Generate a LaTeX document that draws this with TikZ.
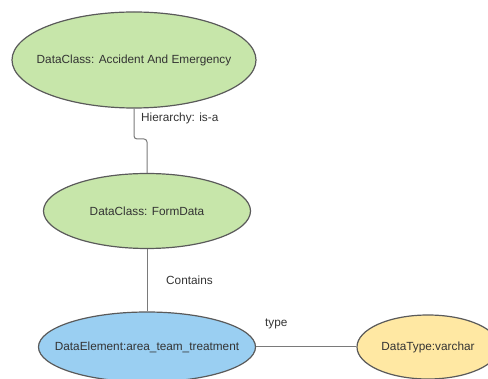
\documentclass[tikz,border=0pt]{standalone}
\usepackage{fontspec}
\setmainfont{Liberation Sans}
\usetikzlibrary{shapes.geometric}
\definecolor{classgreen}{HTML}{C7E6AA}
\definecolor{elemblue}{HTML}{9ACFF2}
\definecolor{typeyellow}{HTML}{FFE8A3}
\definecolor{rim}{HTML}{5A5A5A}
\definecolor{wire}{HTML}{7A7A7A}
\definecolor{ink}{HTML}{333333}
\begin{document}
\begin{tikzpicture}[x=1pt,y=-1pt,
  entity/.style={ellipse, draw=rim, line width=1.2pt, inner sep=0pt},
  caption/.style={font=\fontsize{11.8}{14}\selectfont, text=ink, inner sep=0pt},
  link/.style={draw=wire, line width=1pt},
  tag/.style={anchor=west, font=\fontsize{11.8}{14}\selectfont, text=ink, inner sep=0pt}]
\useasboundingbox (0,0) rectangle (488,379);
\clip (0,0) rectangle (488,379);
% entity outlines (fixed size) with their captions centred inside
\node[entity, fill=classgreen, minimum width=244pt, minimum height=96pt] (ae) at (134,60) {};
\node[caption] (aeText) at (ae.center) {DataClass: Accident And Emergency};
\node[entity, fill=classgreen, minimum width=207pt, minimum height=75pt] (form) at (147,211) {};
\node[caption] (formText) at (form.center) {DataClass: FormData};
\node[entity, fill=elemblue, minimum width=217pt, minimum height=70pt] (elem) at (147,347) {};
\node[caption] (elemText) at (elem.center) {DataElement:area\_team\_treatment};
\node[entity, fill=typeyellow, minimum width=142pt, minimum height=64pt] (vtype) at (428,347) {};
\node[caption] (vtypeText) at (vtype.center) {DataType:varchar};
% connectors
\coordinate (bendA) at (134,139);
\coordinate (bendB) at (147,139);
\draw[link, rounded corners=3pt] (ae.south) -- (bendA) -- (bendB) -- (form.north);
\draw[link] (form.south) -- (elem.north);
\draw[link] (elem.east) -- (vtype.west);
% connector labels
\node[tag] (lh) at (141,118) {Hierarchy: is-a};
\node[tag] (lc) at (166,280) {Contains};
\node[tag] (lt) at (265,324) {type};
\end{tikzpicture}
\end{document}
